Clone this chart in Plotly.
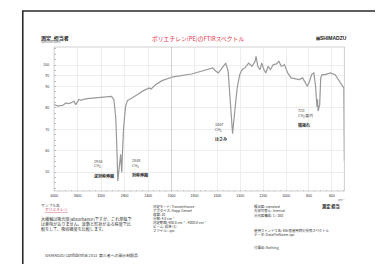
import plotly.graph_objects as go

W, H = 383, 264

# ---------------- data ----------------
wavenumber = [4000, 3995, 3938, 3900, 3855, 3800, 3760, 3717, 3662, 3633, 3600, 3578, 3540, 3500,
              3438, 3350, 3272, 3200, 3105, 3022, 2983, 2950, 2928, 2916, 2900, 2883, 2867, 2860,
              2848, 2835, 2817, 2783, 2750, 2717, 2662, 2578, 2495, 2438, 2383, 2350, 2328, 2272,
              2162, 2078, 2000,
              1912, 1826, 1741, 1683, 1641, 1612, 1592, 1570, 1547, 1527, 1506, 1489, 1473, 1470,
              1467, 1460, 1447, 1427, 1405, 1384, 1356, 1327, 1298, 1270, 1262, 1247, 1227, 1213,
              1193, 1176, 1156, 1136, 1113, 1085, 1062, 1042, 1014, 985, 956, 914, 885, 856, 828,
              814, 794, 777, 757, 742, 730, 725, 720, 706, 697, 685, 657, 614, 571, 543, 514, 495, 490]
transmittance = [81.6, 81.5, 80.8, 81.0, 81.1, 82.3, 82.0, 82.3, 83.1, 81.5, 83.0, 83.9, 83.5, 84.0,
                 84.3, 84.5, 84.7, 85.0, 85.4, 85.4, 83.9, 75.3, 58.3, 45.9, 50.0, 53.6, 58.3, 55.0,
                 49.8, 60.0, 70.7, 80.8, 83.5, 83.9, 84.7, 86.2, 87.8, 88.5, 89.3, 88.8, 89.3, 90.8,
                 92.7, 93.6, 94.3,
                 95.0, 95.8, 97.1, 97.8, 98.6, 97.1, 96.3, 97.8, 99.4, 100.9, 97.1, 86.2, 72.0, 70.0,
                 67.9, 72.0, 80.0, 89.3, 95.5, 97.8, 98.9, 100.9, 99.4, 101.7, 104.0, 99.4, 97.8, 100.9,
                 97.8, 96.3, 99.4, 97.8, 100.1, 100.5, 101.7, 99.4, 100.1, 96.3, 94.0, 93.6, 93.2, 94.0, 91.6,
                 90.1, 92.4, 95.5, 96.3, 90.1, 80.5, 84.0, 78.5, 81.5, 94.0, 95.5, 95.5, 96.3, 95.5, 93.2, 90.8, 89.3, 55.2]

x_ticks_high = [4000, 3600, 3200, 2800, 2400, 2000]
x_ticks_low = [1800, 1600, 1400, 1200, 1000, 800, 600]
y_ticks = [50, 60, 70, 80, 90, 95, 100]

peak_wn = [2916, 2848, 1467, 720]
peak_label_wn = [3350, 2700, 1641, 913]
peak_label_t = [54.9, 55.3, 72.1, 78.6]
peak_group = ["CH₂", "CH₂", "CH₂", "CH₂ 面内"]
peak_mode = ["逆対称伸縮", "対称伸縮", "はさみ", "横揺れ"]
peak_axis = ["x", "x", "x2", "x2"]

title_text = "ポリエチレン(PE)のFTIRスペクトル"

# ---------------- geometry helpers (pixel -> paper) ----------------
def px(x):
    return x / W

def py(y):
    return 1 - y / H

PLOT_L, PLOT_M, PLOT_R = 43, 163, 339.5
PLOT_T, PLOT_B = 39, 183

TRACE_COLOR = "#999999"
JP = "Noto Sans CJK JP, Noto Sans, sans-serif"

hi_x = [w for w in wavenumber if w >= 2000]
hi_y = [t for w, t in zip(wavenumber, transmittance) if w >= 2000]
lo_x = [w for w in wavenumber if w <= 2000]
lo_y = [t for w, t in zip(wavenumber, transmittance) if w <= 2000]

fig = go.Figure()
fig.add_trace(go.Scatter(x=hi_x, y=hi_y, xaxis="x", yaxis="y", mode="lines",
                         line=dict(color=TRACE_COLOR, width=1.2), hoverinfo="skip"))
fig.add_trace(go.Scatter(x=lo_x, y=lo_y, xaxis="x2", yaxis="y", mode="lines",
                         line=dict(color=TRACE_COLOR, width=1.2), hoverinfo="skip"))

tickfont = dict(family="Liberation Sans, Arial, sans-serif", size=3.5, color="#333")
grid = "#eeeeee"

fig.update_layout(
    width=W, height=H,
    margin=dict(l=0, r=0, t=0, b=0),
    paper_bgcolor="white", plot_bgcolor="white",
    showlegend=False,
    xaxis=dict(domain=[px(PLOT_L), px(PLOT_M)], range=[4000, 2000], anchor="y",
               tickvals=x_ticks_high, ticktext=[str(v) for v in x_ticks_high],
               tickfont=tickfont, showgrid=True, gridcolor=grid, gridwidth=0.6,
               zeroline=False, showline=False, ticks="", ticklabelstandoff=1,
               minor=dict(ticks="inside", ticklen=1.5, tickcolor="#bbb", dtick=100, showgrid=False)),
    xaxis2=dict(domain=[px(PLOT_M), px(PLOT_R)], range=[2000, 490], anchor="y",
                tickvals=x_ticks_low, ticktext=[str(v) for v in x_ticks_low],
                tickfont=tickfont, showgrid=True, gridcolor=grid, gridwidth=0.6,
                zeroline=False, showline=False, ticks="", ticklabelstandoff=1,
                minor=dict(ticks="inside", ticklen=1.5, tickcolor="#bbb", dtick=50, showgrid=False)),
    yaxis=dict(domain=[py(PLOT_B), py(PLOT_T)], range=[41.2, 108.4], anchor="x",
               tickvals=y_ticks, ticktext=[str(v) for v in y_ticks],
               tickfont=tickfont, showgrid=True, gridcolor=grid, gridwidth=0.6,
               zeroline=False, showline=False, ticks="", ticklabelstandoff=4,
               minor=dict(ticks="inside", ticklen=1.5, tickcolor="#bbb", dtick=2.5, showgrid=False)),
)

shapes = []
# page frame
shapes.append(dict(type="rect", xref="paper", yref="paper", x0=px(11), x1=px(381.5),
                   y0=py(270), y1=py(3), line=dict(color="#2a2a2a", width=1.6)))
# plot frame
shapes.append(dict(type="rect", xref="paper", yref="paper", x0=px(PLOT_L), x1=px(PLOT_R),
                   y0=py(PLOT_B), y1=py(PLOT_T), line=dict(color="#c4c4c4", width=0.8)))
# scale change line at 2000
shapes.append(dict(type="line", xref="x", yref="paper", x0=2000, x1=2000,
                   y0=py(PLOT_B), y1=py(PLOT_T), line=dict(color="#9a9a9a", width=0.8)))
fig.update_layout(shapes=shapes)

ann = []

def text(x, y, s, size=4.3, color="#333", bold=False, xanchor="left", family=JP):
    if bold:
        s = "<b>" + s + "</b>"
    ann.append(dict(xref="paper", yref="paper", x=px(x), y=py(y), text=s, showarrow=False,
                    xanchor=xanchor, yanchor="middle",
                    font=dict(size=size, color=color, family=family)))

# header
text(28, 30, "測定_担当者", size=5, color="#222", bold=True)
text(28, 34.5, "(Spectrum Name)", size=2.4, color="#666")
text(190, 30, title_text, size=5.8, color="#e8334a", xanchor="center")
text(308, 30, "⊞SHIMADZU", size=5, color="#222", bold=True, family="Liberation Sans, Arial, sans-serif")
text(337, 191.5, "cm⁻¹", size=3, color="#666", xanchor="center")

# peak labels (data coordinates)
for wn_p, wn_l, t_l, grp, mode, ax in zip(peak_wn, peak_label_wn, peak_label_t, peak_group, peak_mode, peak_axis):
    f = dict(size=3.8, color="#444", family=JP)
    ann.append(dict(xref=ax, yref="y", x=wn_l, y=t_l, text=str(wn_p),
                    showarrow=False, xanchor="left", yanchor="middle", font=f))
    ann.append(dict(xref=ax, yref="y", x=wn_l, y=t_l - 2.0, text=grp,
                    showarrow=False, xanchor="left", yanchor="middle", font=f))
    ann.append(dict(xref=ax, yref="y", x=wn_l, y=t_l - 6.5, text="<b>" + mode + "</b>",
                    showarrow=False, xanchor="left", yanchor="middle",
                    font=dict(size=4, color="#222", family=JP)))

# lower-left block
text(28, 197, "サンプル名", size=3.8, color="#444")
text(32, 201.5, "<u>ポリエチレン</u>", size=3.8, color="#d0304a")
text(28, 211, "大横軸は吸光度(absorbance)ですが、これ単独で", size=4.1, color="#333")
text(28, 216, "は意味がありません。波数と形状がある程度で比", size=4.1, color="#333")
text(28, 221, "較をして、吸収強度を比較します。", size=4.1, color="#333")
text(32, 247, "SHIMADZU Confidential 2013  第三者への開示制限品", size=3.9, color="#333")

# middle block
mid = ["測定モード: Transmittance", "アポダイズ: Happ-Genzel", "積算: 20", "分解: 4.0 cm⁻¹",
       "測定範囲: 400.0 cm⁻¹ - 4000.0 cm⁻¹", "ビーム: 標準 (1)", "ファイル: .spc"]
for i, s in enumerate(mid):
    text(142, 198 + i * 4.15, s, size=3.4, color="#333")

# right block
right = [(245, 198, "検出器: standard"), (245, 202.5, "光源切替え: Internal"),
         (245, 207, "分光器構成: 1 / 300"), (245, 222, "使用ウィンドウ名: KBr窓使用時の参照スペクトル"),
         (245, 226, "データ: DataFileName.spc"), (245, 239, "付属品: Nothing")]
for x, y, s in right:
    text(x, y, s, size=3.4, color="#333")
text(315, 198, "測定 担当", size=4.2, color="#222", bold=True)

fig.update_layout(annotations=ann)

fig.write_html("out.html")
